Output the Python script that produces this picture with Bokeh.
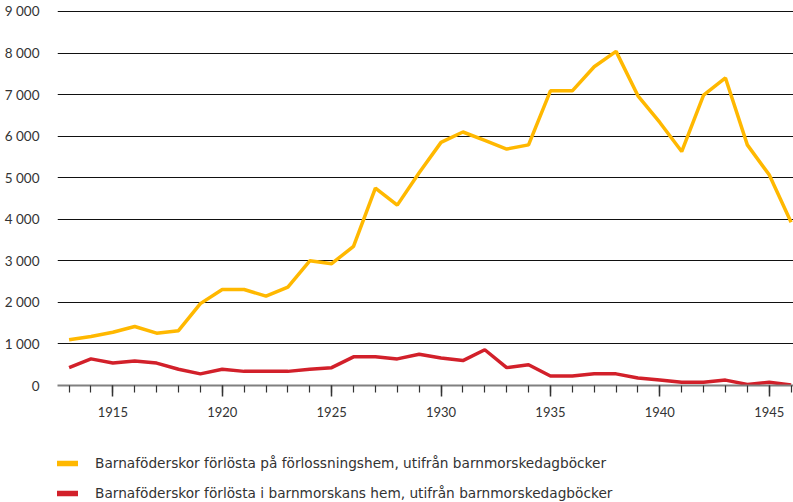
from bokeh.plotting import figure
from bokeh.layouts import column
from bokeh.models import Range1d, FixedTicker, Legend, LegendItem
from bokeh.embed import file_html
from bokeh.resources import INLINE

years = list(range(1913, 1947))
forlossningshem = [1100, 1180, 1280, 1420, 1260, 1320, 1970, 2310, 2310, 2150,
                   2370, 3000, 2930, 3350, 4750, 4340, 5120, 5850, 6100, 5900,
                   5690, 5790, 7090, 7090, 7670, 8040, 6970, 6330, 5630, 6990,
                   7400, 5790, 5070, 3930]
barnmorskans_hem = [430, 640, 540, 590, 540, 390, 280, 390, 340, 340,
                    340, 390, 430, 690, 690, 640, 750, 660, 600, 860,
                    430, 500, 230, 230, 280, 280, 180, 130, 80, 80,
                    130, 25, 80, 10]
series_labels = [
    "Barnaföderskor förlösta på förlossningshem, utifrån barnmorskedagböcker",
    "Barnaföderskor förlösta i barnmorskans hem, utifrån barnmorskedagböcker",
]
y_ticks = [0, 1000, 2000, 3000, 4000, 5000, 6000, 7000, 8000, 9000]
y_tick_labels = ["0", "1 000", "2 000", "3 000", "4 000", "5 000", "6 000", "7 000", "8 000", "9 000"]
x_major_ticks = [1915, 1920, 1925, 1930, 1935, 1940, 1945]

YELLOW = "#FFB800"
RED = "#D2202A"
FONT = "Lato"
LEGEND_FONT = "DejaVu Sans"
TEXT = "#333333"

p = figure(width=793, height=427,
           x_range=Range1d(1912.47, 1946.11), y_range=Range1d(0, 9072),
           output_backend="svg", toolbar_location=None,
           min_border_left=57, min_border_right=0, min_border_top=8,
           min_border_bottom=42)
p.outline_line_color = None
p.background_fill_color = "white"
p.border_fill_color = "white"

p.xgrid.visible = False
p.ygrid.ticker = FixedTicker(ticks=y_ticks)
p.ygrid.grid_line_color = "#111111"
p.ygrid.grid_line_width = 1.2

yax = p.yaxis[0]
yax.ticker = FixedTicker(ticks=y_ticks)
yax.major_label_overrides = {t: l for t, l in zip(y_ticks, y_tick_labels)}
yax.axis_line_color = None
yax.major_tick_line_color = None
yax.minor_tick_line_color = None
yax.major_label_standoff = 12
yax.major_label_text_font = FONT
yax.major_label_text_font_size = "13.5px"
yax.major_label_text_color = TEXT

xax = p.xaxis[0]
xax.ticker = FixedTicker(ticks=x_major_ticks, minor_ticks=years)
xax.axis_line_color = "#808080"
xax.axis_line_width = 2
xax.major_tick_in = 0
xax.major_tick_out = 11
xax.minor_tick_in = 0
xax.minor_tick_out = 7
xax.major_tick_line_color = TEXT
xax.major_tick_line_width = 1.5
xax.minor_tick_line_color = TEXT
xax.minor_tick_line_width = 1.2
xax.major_label_standoff = 10
xax.major_label_text_font = FONT
xax.major_label_text_font_size = "13px"
xax.major_label_text_color = TEXT

p.line(years, forlossningshem, line_color=YELLOW, line_width=3.5)
p.line(years, barnmorskans_hem, line_color=RED, line_width=3.5)

# Legend panel below the chart
lg = figure(width=793, height=75, output_backend="svg", toolbar_location=None,
            x_range=Range1d(0, 1), y_range=Range1d(0, 1),
            x_axis_type=None, y_axis_type=None,
            min_border_left=0, min_border_right=0, min_border_top=0,
            min_border_bottom=0)
lg.outline_line_color = None
lg.grid.visible = False
lg.border_fill_color = "white"
# single-point lines: nothing is drawn, only the legend swatches
ly = lg.line(x=years[:1], y=forlossningshem[:1], line_color=YELLOW, line_width=5.5, line_cap="round")
lr = lg.line(x=years[:1], y=barnmorskans_hem[:1], line_color=RED, line_width=5.5, line_cap="round")

legend = Legend(items=[LegendItem(label=series_labels[0], renderers=[ly]),
                       LegendItem(label=series_labels[1], renderers=[lr])],
                location=(-12, 1), orientation="vertical",
                padding=0, margin=0, spacing=14,
                label_height=14, glyph_height=14, glyph_width=33,
                label_standoff=17,
                border_line_color=None, background_fill_alpha=0,
                label_text_font=LEGEND_FONT, label_text_font_size="13.7px",
                label_text_color=TEXT)
lg.add_layout(legend)

layout = column(p, lg, spacing=0)
open("out.html", "w").write(file_html(layout, INLINE))
